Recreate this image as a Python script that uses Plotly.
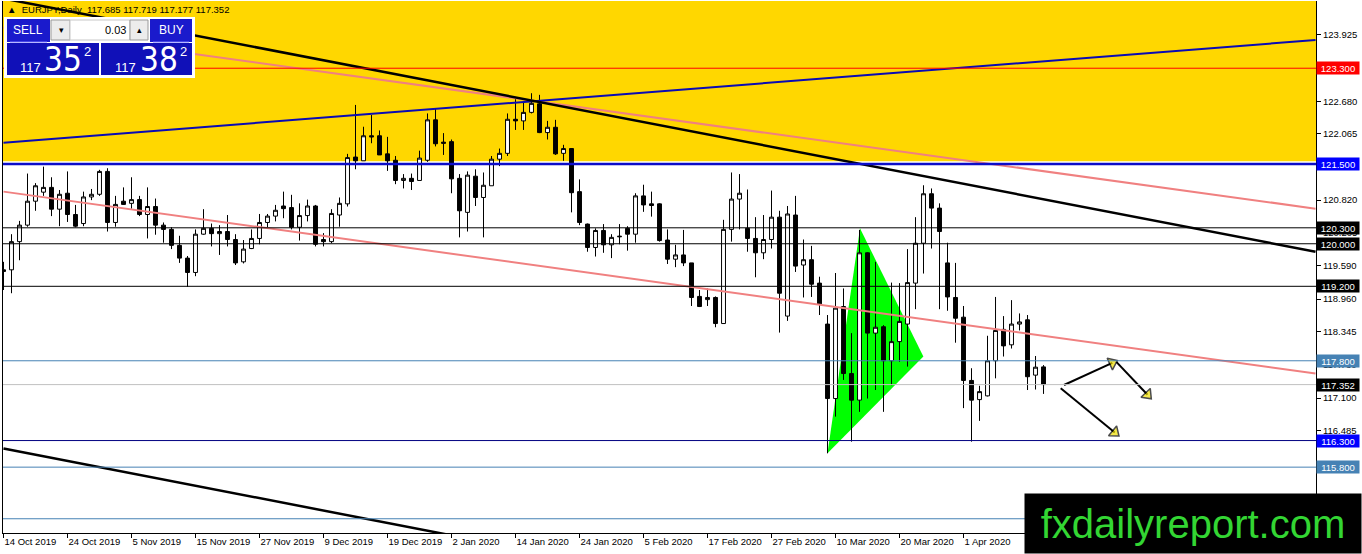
import plotly.graph_objects as go

# EURJPY daily candles, 14 Oct 2019 .. 15 Apr 2020
opens = [119.51, 119.51, 120.04, 120.35, 120.80, 120.97, 121.06, 120.65, 120.95, 120.55,
         120.38, 120.88, 120.93, 121.36, 120.40, 120.80, 120.76, 120.83, 120.55, 120.70,
         120.35, 120.27, 119.97, 119.73, 119.46, 120.18, 120.29, 120.19, 120.23, 120.08,
         119.66, 119.91, 120.10, 120.40, 120.52, 120.71, 120.68, 120.31, 120.53, 120.71,
         120.08, 120.04, 120.54, 120.75, 121.63, 121.56, 122.03, 122.03, 121.69, 121.57,
         121.19, 121.23, 121.19, 121.57, 122.33, 121.91, 121.92, 121.23, 120.59, 121.27,
         120.87, 121.09, 121.59, 121.70, 122.34, 122.31, 122.47, 122.63, 122.09, 122.19,
         121.70, 121.79, 120.98, 120.37, 119.93, 120.25, 119.98, 120.13, 120.29, 120.18,
         120.90, 120.75, 120.75, 120.07, 119.71, 119.79, 119.64, 119.01, 118.95, 118.99,
         118.50, 120.27, 120.84, 120.29, 120.10, 119.83, 120.08, 120.50, 118.64, 120.54,
         119.60, 119.70, 119.26, 118.49, 117.09, 118.82, 117.56, 117.06, 119.83, 118.32,
         118.44, 117.80, 118.16, 118.49, 119.26, 120.01, 120.94, 120.67, 119.64, 118.99,
         118.62, 117.43, 117.07, 117.14, 117.80, 118.39, 118.10, 118.49, 118.57, 117.53,
         117.685]
highs = [119.66, 120.18, 120.43, 121.32, 121.14, 121.45, 121.25, 121.01, 121.36, 120.73,
         120.98, 121.03, 121.39, 121.42, 120.90, 121.06, 121.25, 120.90, 121.06, 120.85,
         120.40, 120.31, 120.15, 119.77, 120.27, 120.65, 120.38, 120.35, 120.54, 120.18,
         120.07, 120.27, 120.56, 120.56, 120.73, 120.98, 120.92, 120.76, 120.83, 120.73,
         120.20, 120.65, 120.87, 121.69, 122.61, 122.20, 122.42, 122.13, 122.01, 121.65,
         121.31, 121.32, 121.75, 122.45, 122.55, 122.08, 121.96, 121.31, 121.36, 121.40,
         121.34, 121.65, 121.79, 122.45, 122.73, 122.67, 122.83, 122.80, 122.31, 122.33,
         121.86, 121.80, 121.21, 120.38, 120.29, 120.37, 120.18, 120.37, 120.33, 120.95,
         121.11, 120.98, 120.76, 120.27, 119.98, 120.26, 119.64, 119.13, 119.16, 119.01,
         120.45, 121.34, 121.31, 121.02, 120.50, 120.54, 121.00, 120.62, 120.71, 120.90,
         120.08, 119.96, 119.38, 118.66, 119.45, 119.16, 118.32, 120.26, 119.84, 119.66,
         118.47, 119.27, 119.26, 119.90, 120.50, 121.10, 121.04, 120.76, 120.02, 119.64,
         118.83, 117.66, 117.33, 118.27, 119.00, 118.64, 118.94, 118.69, 118.66, 117.89,
         117.719]
lows = [119.13, 119.07, 119.69, 120.32, 120.62, 120.90, 120.52, 120.33, 120.41, 120.31,
        120.33, 120.82, 120.90, 120.23, 120.32, 120.73, 120.66, 120.52, 120.10, 120.17,
        120.02, 119.90, 119.64, 119.19, 119.39, 120.17, 119.95, 119.79, 119.95, 119.60,
        119.63, 119.90, 119.99, 120.31, 120.42, 120.48, 120.27, 120.06, 120.42, 119.95,
        119.95, 120.01, 120.32, 120.70, 121.40, 121.56, 121.89, 121.67, 121.37, 121.12,
        121.04, 121.01, 121.19, 121.54, 121.83, 121.67, 120.95, 120.12, 120.23, 120.71,
        120.12, 121.09, 121.46, 121.65, 122.14, 122.14, 122.45, 122.08, 121.96, 121.67,
        121.56, 120.59, 120.35, 119.85, 119.76, 119.83, 119.73, 119.99, 119.87, 120.02,
        120.60, 120.51, 120.04, 119.62, 119.56, 119.58, 118.83, 118.81, 118.83, 118.43,
        118.50, 120.04, 120.27, 119.85, 119.37, 119.71, 119.91, 118.33, 118.55, 119.47,
        118.99, 119.00, 118.66, 116.06, 116.75, 117.44, 116.28, 116.84, 117.09, 117.25,
        116.84, 117.34, 117.78, 117.69, 118.77, 119.44, 119.91, 118.77, 118.74, 118.14,
        116.91, 116.28, 116.67, 117.13, 117.47, 117.88, 118.03, 118.37, 117.25, 117.26,
        117.177]
closes = [119.48, 120.04, 120.35, 120.80, 121.09, 121.06, 120.65, 120.93, 120.55, 120.33,
          120.88, 120.93, 121.36, 120.40, 120.74, 120.74, 120.83, 120.55, 120.70, 120.35,
          120.27, 119.97, 119.73, 119.46, 120.18, 120.29, 120.19, 120.23, 120.08, 119.64,
          119.90, 120.10, 120.40, 120.52, 120.63, 120.66, 120.31, 120.53, 120.71, 119.99,
          120.04, 120.57, 120.76, 121.62, 121.56, 122.03, 122.01, 121.67, 121.56, 121.19,
          121.23, 121.17, 121.61, 122.33, 121.88, 121.89, 121.22, 120.62, 121.29, 120.87,
          121.10, 121.59, 121.70, 122.34, 122.31, 122.47, 122.64, 122.09, 122.19, 121.69,
          121.79, 120.96, 120.40, 119.93, 120.25, 119.98, 120.12, 120.14, 120.18, 120.90,
          120.73, 120.72, 120.06, 119.71, 119.79, 119.64, 118.99, 118.82, 118.99, 118.50,
          120.27, 120.84, 120.95, 120.10, 119.83, 120.08, 120.50, 119.07, 120.56, 119.58,
          119.70, 119.24, 118.87, 117.09, 118.79, 117.56, 117.06, 119.83, 118.32, 118.43,
          117.80, 118.16, 118.54, 119.27, 120.01, 120.94, 120.67, 120.23, 119.00, 118.60,
          117.43, 117.06, 117.22, 117.80, 118.37, 118.08, 118.49, 118.53, 117.50, 117.68,
          117.352]

date_labels = ["14 Oct 2019", "24 Oct 2019", "5 Nov 2019", "15 Nov 2019", "27 Nov 2019",
               "9 Dec 2019", "19 Dec 2019", "2 Jan 2020", "14 Jan 2020", "24 Jan 2020",
               "5 Feb 2020", "17 Feb 2020", "27 Feb 2020", "10 Mar 2020", "20 Mar 2020",
               "1 Apr 2020"]
bars_per_label = 8

price_ticks = [123.925, 123.310, 122.680, 122.065, 121.450, 120.820, 120.205, 119.590,
               118.960, 118.345, 117.730, 117.100, 116.485, 115.870, 115.240]

# horizontal levels drawn on the chart
level_prices = [123.300, 121.500, 120.300, 120.000, 119.200, 117.800, 116.300, 115.800, 114.830]
level_colors = ["#ff0000", "#0c0cc8", "#000000", "#000000", "#000000", "#4682b4", "#000080", "#4682b4", "#4682b4"]
level_widths = [1, 2.5, 1, 1, 1, 1, 1, 1, 1]
tag_colors = ["#ff0000", "#0000ff", "#000000", "#000000", "#000000", "#4682b4", "#0000ff", "#4682b4", None]
bid_price = 117.352

# trendlines: (bar index, price) at both ends
trend_black_1 = ([0, 164], [124.61, 119.85])
trend_black_2 = ([0, 164], [116.15, 111.37])
trend_pink_1 = ([0, 164], [124.06, 120.66])
trend_pink_2 = ([0, 164], [120.98, 117.56])
trend_blue = ([0, 164], [121.90, 123.83])

zone_bottom = 121.55
triangle_x = [103.0, 107.06, 114.98]
triangle_y = [116.06, 120.29, 117.88]

# arrows: start bar, start price, end bar, end price
arrows = [(132.56, 117.345, 138.6, 117.76),
          (139.1, 117.78, 143.0, 117.16),
          (132.15, 117.283, 138.9, 116.45)]

W, H = 1362, 554
ML, MR, MT, MB = 3, 46, 1, 21
PW, PH = W - ML - MR, H - MT - MB
FONT = "Tahoma, 'Liberation Sans', Arial, sans-serif"


def fx(px):
    return (px - ML) / PW


def fy(py):
    return 1 - (py - MT) / PH


bars = list(range(len(opens)))

fig = go.Figure()
fig.add_trace(go.Candlestick(
    x=bars, open=opens, high=highs, low=lows, close=closes,
    increasing=dict(line=dict(color="black", width=1), fillcolor="white"),
    decreasing=dict(line=dict(color="black", width=1), fillcolor="black"),
    hoverinfo="skip", showlegend=False))

for (xs, ys), color, width in [(trend_pink_1, "#f08080", 2), (trend_pink_2, "#f08080", 2),
                               (trend_blue, "#0a0ab4", 2),
                               (trend_black_1, "black", 2.5), (trend_black_2, "black", 2.5)]:
    fig.add_trace(go.Scatter(x=xs, y=ys, mode="lines", line=dict(color=color, width=width),
                             hoverinfo="skip", showlegend=False))

# arrows: black shaft, yellow head outlined in black, pointing along the shaft
for x0, y0, x1, y1 in arrows:
    fig.add_trace(go.Scatter(
        x=[x0, x1], y=[y0, y1], mode="lines+markers", line=dict(color="black", width=2),
        marker=dict(symbol="triangle-up", size=[0, 11], angleref="previous", color="#f0e000",
                    line=dict(color="black", width=1.5)),
        hoverinfo="skip", showlegend=False))

# background objects
fig.add_shape(type="rect", xref="paper", x0=0, x1=1, yref="y", y0=zone_bottom, y1=130,
              fillcolor="#ffd700", line_width=0, layer="below")
path = "M {},{} L {},{} L {},{} Z".format(triangle_x[0], triangle_y[0], triangle_x[1],
                                          triangle_y[1], triangle_x[2], triangle_y[2])
fig.add_shape(type="path", path=path, fillcolor="#00ff00", line_width=0, layer="below")

# horizontal levels
fig.add_shape(type="line", xref="paper", x0=0, x1=1, y0=bid_price, y1=bid_price,
              line=dict(color="#c0c0c0", width=1))
for p, c, w in zip(level_prices, level_colors, level_widths):
    fig.add_shape(type="line", xref="paper", x0=0, x1=1, y0=p, y1=p, line=dict(color=c, width=w))

# price tags on the right scale
tags = [(bid_price, "#000000")] + [(p, c) for p, c in zip(level_prices, tag_colors) if c]
for p, c in tags:
    fig.add_annotation(xref="paper", x=1, xanchor="left", yref="y", y=p, yanchor="middle",
                       text="%.3f" % p, showarrow=False, bgcolor=c, width=42, height=12,
                       borderpad=0, font=dict(family=FONT, size=9.5, color="white"))

# header line
fig.add_annotation(xref="paper", yref="paper", x=fx(5), y=fy(9.5), xanchor="left",
                   yanchor="middle", showarrow=False,
                   text="\u25b2  EURJPY,Daily  %.3f %.3f %.3f %.3f" % (opens[-1], highs[-1], lows[-1], closes[-1]),
                   font=dict(family=FONT, size=9.5, color="black"))

# one-click trading panel
panel_boxes = [(4, 195, 17, 78, "white", None),
               (7, 50, 19, 42, "#1a1acc", None),
               (150, 192, 19, 42, "#1a1acc", None),
               (51, 70, 20, 40, "#ececec", "#9a9a9a"),
               (70, 130, 20, 40, "white", "#c8c8c8"),
               (130, 148, 20, 40, "#ececec", "#9a9a9a"),
               (7, 99, 43, 75, "#1010b8", None),
               (101, 192, 43, 75, "#1010b8", None)]
for x0, x1, y0, y1, fill, edge in panel_boxes:
    fig.add_shape(type="rect", xref="paper", yref="paper", x0=fx(x0), x1=fx(x1),
                  y0=fy(y1), y1=fy(y0), fillcolor=fill,
                  line=dict(color=edge or fill, width=1 if edge else 0))
for x0, x1 in [(10, 47), (153, 189)]:
    fig.add_shape(type="line", xref="paper", yref="paper", x0=fx(x0), x1=fx(x1),
                  y0=fy(42), y1=fy(42), line=dict(color="#7070ff", width=1))

BIG = "'Liberation Sans Narrow', 'DejaVu Sans Condensed', 'Liberation Sans', sans-serif"
panel_texts = [("SELL", 28, 30, 12, "white"), ("BUY", 171, 30, 12, "white"),
               ("\u25be", 61, 30, 9, "black"), ("\u25b4", 139, 30, 9, "black"),
               ("117", 30, 67, 13, "white"), ("35", 63, 59, 33, "white"), ("2", 87, 52, 13, "white"),
               ("117", 125, 67, 13, "white"), ("38", 159, 59, 33, "white"), ("2", 183, 52, 13, "white")]
for t, x, y, s, c in panel_texts:
    fig.add_annotation(xref="paper", yref="paper", x=fx(x), y=fy(y), text=t, showarrow=False,
                       xanchor="center", yanchor="middle",
                       font=dict(family=BIG if s > 20 else FONT, size=s, color=c))
fig.add_annotation(xref="paper", yref="paper", x=fx(128), y=fy(30), text="0.03", showarrow=False,
                   xanchor="right", yanchor="middle", font=dict(family=FONT, size=11, color="black"))

# watermark
fig.add_annotation(xref="paper", yref="paper", x=fx(W), y=fy(H), xanchor="right", yanchor="bottom",
                   text="fxdailyreport.com", showarrow=False, bgcolor="black", width=336, height=59,
                   borderpad=0, font=dict(family="'Liberation Sans', Arial, sans-serif", size=40,
                                          color="#33d633"))

fig.update_layout(
    width=W, height=H,
    margin=dict(l=ML, r=MR, t=MT, b=MB, autoexpand=False),
    paper_bgcolor="white", plot_bgcolor="white",
    showlegend=False,
    font=dict(family=FONT, size=9.5, color="black"),
)
fig.update_xaxes(
    range=[-0.0625, 164.06], rangeslider_visible=False, automargin=False,
    tickvals=[i * bars_per_label for i in range(len(date_labels))], ticktext=date_labels,
    ticks="outside", ticklen=4, tickcolor="black", ticklabelposition="outside right",
    showline=True, linecolor="black", linewidth=1, showgrid=False, zeroline=False,
    tickfont=dict(family=FONT, size=9.5, color="black"),
)
fig.update_yaxes(
    side="right", range=[114.562, 124.564], automargin=False,
    tickvals=price_ticks, ticktext=["%.3f" % v for v in price_ticks],
    ticks="outside", ticklen=4, tickcolor="black",
    showline=True, mirror=True, linecolor="black", linewidth=1, showgrid=False, zeroline=False,
    tickfont=dict(family=FONT, size=9.5, color="black"),
)

# the page's default body margin would push the 1362x554 figure off the window
fig.write_html("out.html", config={"displayModeBar": False},
               post_script="document.body.style.margin = '0';")
